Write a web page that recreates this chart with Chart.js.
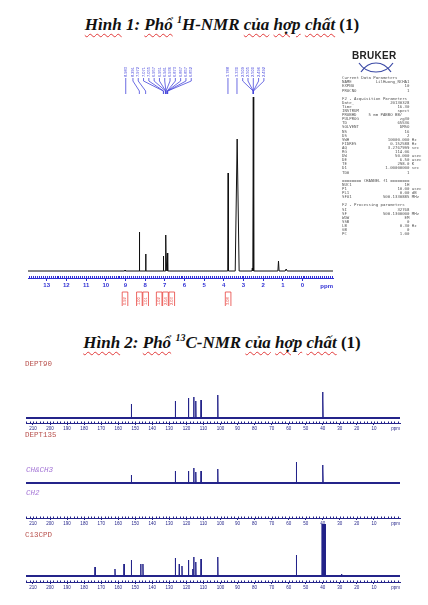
<!DOCTYPE html>
<html lang="vi">
<head>
<meta charset="utf-8">
<title>Phổ NMR của hợp chất (1)</title>
<script src="https://cdn.jsdelivr.net/npm/chart.js@4.4.1/dist/chart.umd.min.js"></script>
<style>
  html, body { margin: 0; padding: 0; background: #fff; }
  #page { position: relative; width: 428px; height: 605px; overflow: hidden; }
  canvas { position: absolute; left: 0; }
  .title {
    position: absolute; left: 0; width: 444px; text-align: center; white-space: nowrap;
    font-family: 'Liberation Serif', 'DejaVu Serif', serif; font-weight: bold; font-style: italic;
    font-size: 17px; line-height: 20px; color: #111;
  }
  .title sup { font-size: 10px; vertical-align: 7px; line-height: 0; }
  .title .up { font-style: normal; }
  .sq { text-decoration: underline wavy #e23a3a; text-decoration-thickness: 1px; text-underline-offset: 3px; }
  .lbl { position: absolute; font-family: 'Liberation Mono', 'DejaVu Sans Mono', monospace; font-size: 7.5px; line-height: 8px; white-space: nowrap; }
  .red { color: #b8504c; }
  .pur { color: #a475d6; font-style: italic; }
  #logo { position: absolute; left: 352px; top: 51px; font-family: 'Liberation Sans', Arial, sans-serif; font-weight: bold; font-size: 10px; line-height: 10px; letter-spacing: 0.3px; color: #222; }
  #swoosh { position: absolute; left: 357px; top: 60px; }
  #params {
    position: absolute; left: 342px; top: 76px; margin: 0;
    font-family: 'DejaVu Sans Mono', 'Liberation Mono', monospace; font-size: 8px; line-height: 8.2px;
    color: #555; transform: scale(0.5); transform-origin: 0 0;
  }
</style>
</head>
<body>
<div id="page">
  <div class="title" style="top:15px"><span class="sq">Hình</span> 1: <span class="sq">Phổ</span> <sup>1</sup>H-NMR <span class="sq">của</span> <span class="sq">hợp</span> <span class="sq">chất</span> <span class="up">(1)</span></div>
  <div class="title" style="top:333px"><span class="sq">Hình</span> 2: <span class="sq">Phổ</span> <sup>13</sup>C-NMR <span class="sq">của</span> <span class="sq">hợp</span> <span class="sq">chất</span> <span class="up">(1)</span></div>

  <canvas id="h1" width="428" height="312" style="top:0"></canvas>
  <canvas id="dept90" width="428" height="85" style="top:350px"></canvas>
  <canvas id="dept135" width="428" height="98" style="top:432px"></canvas>
  <canvas id="cpd" width="428" height="85" style="top:515px"></canvas>

  <div class="lbl red" style="left:25px; top:360px">DEPT90</div>
  <div class="lbl red" style="left:25px; top:431px">DEPT135</div>
  <div class="lbl pur" style="left:26px; top:466px">CH&amp;CH3</div>
  <div class="lbl pur" style="left:26px; top:489px">CH2</div>
  <div class="lbl red" style="left:25px; top:531px">C13CPD</div>

  <div id="logo">BRUKER</div>
  <svg id="swoosh" width="38" height="14" viewBox="0 0 38 14">
    <path d="M2 3 C10 15, 28 15, 36 3" fill="none" stroke="#3b4aa6" stroke-width="1.2"/>
    <path d="M4 12 C12 0, 26 0, 34 12" fill="none" stroke="#3b4aa6" stroke-width="1.2"/>
  </svg>
<pre id="params">Current Data Parameters
NAME          LilHuong_NCHA1
EXPNO                     10
PROCNO                     1

F2 - Acquisition Parameters
Date_               20130328
Time                   16.30
INSTRUM                spect
PROBHD     5 mm PABBO BB/
PULPROG                 zg30
TD                     65536
SOLVENT                 DMSO
NS                        16
DS                         2
SWH                10000.000 Hz
FIDRES              0.152588 Hz
AQ                 3.2767999 sec
RG                    114.06
DW                    50.000 usec
DE                      6.50 usec
TE                     298.0 K
D1                1.00000000 sec
TD0                        1

======== CHANNEL f1 ========
NUC1                      1H
P1                     10.00 usec
PL1                     0.00 dB
SFO1             500.1330885 MHz

F2 - Processing parameters
SI                     32768
SF               500.1300000 MHz
WDW                       EM
SSB                        0
LB                      0.30 Hz
GB                         0
PC                      1.00</pre>
</div>

<script>
// 1H spectrum (ppm, peak height, half width in ppm)
const h1Shift  = [9.02, 8.29, 7.97, 7.07, 6.95, 6.87, 3.78, 3.32, 2.55, 2.50, 1.22, 0.83];
const h1Height = [1, 39, 17, 15, 36, 18, 98, 132, 3, 174, 10, 2];
const h1Width  = [0.02, 0.015, 0.015, 0.015, 0.02, 0.02, 0.02, 0.1, 0.02, 0.02, 0.03, 0.05];
const h1Range  = [-1.55, 13.95];

// peak pick labels printed above the 1H spectrum
const h1Labels = [8.983, 8.291, 7.972, 7.071, 7.055, 6.957, 6.951, 6.941, 6.936, 6.873, 6.867, 6.857, 6.852,
                  3.788, 3.330, 2.509, 2.505, 2.500, 2.496, 2.492];

// integrals under the 1H axis
const h1IntShift = [9.02, 8.29, 7.97, 7.07, 6.95, 6.87, 3.78];
const h1IntValue = ['0.92', '1.00', '1.01', '1.02', '2.04', '2.03', '3.08'];

// 13C spectra
const c13Range = [-5.3, 214.1];
const dept90Shift  = [152.3, 126.5, 118.8, 115.7, 114.5, 111.4, 101.6, 40.1, 39.9];
const dept90Height = [14, 17, 20, 21, 17, 18, 23, 26, 19];
const dept135Shift  = [152.3, 126.5, 118.8, 115.7, 114.5, 111.4, 101.6, 55.5, 40.1, 39.9];
const dept135Height = [8, 12, 12, 15, 11, 12, 14, 21, 18, 14];
const cpdShift  = [173.6, 161.9, 156.6, 152.3, 146.8, 145.5, 126.5, 124.2, 122.6, 118.8, 116.3, 115.7, 114.5,
                   111.4, 101.6, 55.5, 40.4, 40.1, 39.8, 39.5, 39.2, 38.9, 38.6, 29.0];
const cpdHeight = [9, 7, 12, 16, 12, 12, 18, 12, 10, 16, 7, 19, 14, 17, 19, 21, 70, 80, 80, 80, 80, 80, 70, 2];

const c13Ticks = [210, 200, 190, 180, 170, 160, 150, 140, 130, 120, 110, 100, 90, 80, 70, 60, 50, 40, 30, 20, 10];

const BLUE = '#2f2fd4';
const NAVY = '#24248a';

// turn peak lists into a stick spectrum line
function peakLine(shifts, heights, width, range) {
  const pts = [{ x: range[1], y: 0 }];
  shifts.forEach((s, i) => {
    const w = Array.isArray(width) ? width[i] : width;
    pts.push({ x: s + w, y: 0 }, { x: s, y: heights[i] }, { x: s - w, y: 0 });
  });
  pts.push({ x: range[0], y: 0 });
  return pts.sort((a, b) => b.x - a.x);
}

// spread labels so they don't overlap, centred over their peaks
function spread(pixels, gap) {
  let groups = pixels.map((p, i) => ({ items: [i], center: p }));
  let merged = true;
  while (merged) {
    merged = false;
    for (let i = 0; i < groups.length - 1; i++) {
      const a = groups[i], b = groups[i + 1];
      const aRight = a.center + (a.items.length - 1) * gap / 2;
      const bLeft = b.center - (b.items.length - 1) * gap / 2;
      if (bLeft - aRight < gap) {
        const items = a.items.concat(b.items);
        const center = items.reduce((s, k) => s + pixels[k], 0) / items.length;
        groups.splice(i, 2, { items: items, center: center });
        merged = true;
        break;
      }
    }
  }
  const out = [];
  groups.forEach(g => g.items.forEach((k, j) => { out[k] = g.center + (j - (g.items.length - 1) / 2) * gap; }));
  return out;
}

function minorTicks(step, len, color) {
  return {
    id: 'minorTicks',
    afterDraw(chart) {
      const s = chart.scales.x, ctx = chart.ctx, y = chart.chartArea.bottom;
      ctx.save();
      ctx.strokeStyle = color;
      ctx.lineWidth = 1;
      ctx.beginPath();
      for (let i = Math.ceil(s.min / step); i * step <= s.max; i++) {
        const px = Math.round(s.getPixelForValue(i * step)) + 0.5;
        ctx.moveTo(px, y);
        ctx.lineTo(px, y - len);
      }
      ctx.stroke();
      ctx.restore();
    }
  };
}

function ppmLabel(offset, font, color) {
  return {
    id: 'ppmLabel',
    afterDraw(chart) {
      const ctx = chart.ctx;
      ctx.save();
      ctx.font = font;
      ctx.fillStyle = color;
      ctx.textAlign = 'right';
      ctx.textBaseline = 'middle';
      ctx.fillText('ppm', chart.chartArea.right, chart.chartArea.bottom + offset);
      ctx.restore();
    }
  };
}

const peakLabels = {
  id: 'peakLabels',
  afterDraw(chart) {
    const s = chart.scales.x, ctx = chart.ctx;
    const px = h1Labels.map(v => s.getPixelForValue(v));
    const lx = spread(px, 5.3);
    ctx.save();
    ctx.strokeStyle = '#4646dc';
    ctx.fillStyle = '#4646dc';
    ctx.lineWidth = 0.8;
    ctx.font = '4px "Liberation Sans"';
    lx.forEach((x, i) => {
      ctx.save();
      ctx.translate(x, 77);
      ctx.rotate(-Math.PI / 2);
      ctx.textBaseline = 'middle';
      ctx.textAlign = 'left';
      ctx.fillText(h1Labels[i].toFixed(3), 0, 0);
      ctx.restore();
      ctx.beginPath();
      ctx.moveTo(x, 78);
      ctx.lineTo(x, 81);
      ctx.lineTo(px[i], 91);
      ctx.lineTo(px[i], 94);
      ctx.stroke();
    });
    ctx.restore();
  }
};

const integrals = {
  id: 'integrals',
  afterDraw(chart) {
    const s = chart.scales.x, ctx = chart.ctx;
    const cx = spread(h1IntShift.map(v => s.getPixelForValue(v)), 6.3);
    ctx.save();
    ctx.strokeStyle = '#e8433d';
    ctx.fillStyle = '#e8433d';
    ctx.lineWidth = 0.8;
    ctx.font = '4px "Liberation Sans"';
    cx.forEach((x, i) => {
      ctx.beginPath();
      ctx.moveTo(x - 2.8, 306);
      ctx.lineTo(x - 2.8, 292);
      ctx.lineTo(x + 2.8, 292);
      ctx.lineTo(x + 2.8, 306);
      ctx.stroke();
      ctx.save();
      ctx.translate(x, 305);
      ctx.rotate(-Math.PI / 2);
      ctx.textBaseline = 'middle';
      ctx.textAlign = 'left';
      ctx.fillText(h1IntValue[i], 0, 0);
      ctx.restore();
    });
    ctx.restore();
  }
};

const hidden = 'rgba(0,0,0,0)';

// 1H chart
new Chart(document.getElementById('h1'), {
  type: 'line',
  data: {
    datasets: [{
      data: peakLine(h1Shift, h1Height, h1Width, h1Range),
      borderColor: '#111', borderWidth: 1, pointRadius: 0, tension: 0
    }]
  },
  options: {
    responsive: false, animation: false, devicePixelRatio: 1,
    layout: { padding: { left: 28, right: 95, top: 90, bottom: 0 } },
    plugins: { legend: { display: false }, tooltip: { enabled: false } },
    scales: {
      x: {
        type: 'linear', reverse: true, min: h1Range[0], max: h1Range[1],
        afterFit: s => { s.height = 34; },
        border: { color: BLUE, width: 1 },
        grid: { drawOnChartArea: false, tickLength: 3, color: c => (c.tick && c.tick.value < 0) ? hidden : BLUE },
        ticks: {
          stepSize: 1, includeBounds: false, autoSkip: false, maxRotation: 0, padding: 1,
          color: BLUE, font: { family: 'Liberation Sans', size: 6, weight: 'bold' },
          callback: v => v < 0 ? '' : String(v)
        }
      },
      y: { display: false, min: -7, max: 181 }
    }
  },
  plugins: [minorTicks(0.1, 2, BLUE), peakLabels, integrals, ppmLabel(8, 'bold 6px "Liberation Sans"', BLUE)]
});

function c13Chart(id, shifts, heights, pad, axisH, yMin, yMax) {
  return new Chart(document.getElementById(id), {
    type: 'line',
    data: {
      datasets: [
        { data: peakLine(shifts, heights, 0.15, c13Range), borderColor: NAVY, borderWidth: 1, pointRadius: 0, tension: 0 },
        { data: [{ x: c13Range[1], y: 0 }, { x: c13Range[0], y: 0 }], borderColor: NAVY, borderWidth: 2, pointRadius: 0 }
      ]
    },
    options: {
      responsive: false, animation: false, devicePixelRatio: 1,
      layout: { padding: { left: 26, right: 28, top: pad.top, bottom: pad.bottom } },
      plugins: { legend: { display: false }, tooltip: { enabled: false } },
      scales: {
        x: {
          type: 'linear', reverse: true, min: c13Range[0], max: c13Range[1],
          afterFit: s => { s.height = axisH; },
          border: { color: NAVY, width: 1 },
          grid: { drawOnChartArea: false, tickLength: 2, color: c => (c.tick && c13Ticks.includes(c.tick.value)) ? NAVY : hidden },
          ticks: {
            stepSize: 10, includeBounds: false, autoSkip: false, maxRotation: 0, padding: 1,
            color: NAVY, font: { family: 'Liberation Sans', size: 4.5 },
            callback: v => c13Ticks.includes(v) ? String(v) : ''
          }
        },
        y: { display: false, min: yMin, max: yMax }
      }
    },
    plugins: [minorTicks(2, 1.5, NAVY), ppmLabel(6, '4.5px "Liberation Sans"', NAVY)]
  });
}

c13Chart('dept90', dept90Shift, dept90Height, { top: 20, bottom: 0 }, 12, -5, 48);
c13Chart('dept135', dept135Shift, dept135Height, { top: 8, bottom: 0 }, 12, -35, 43);
c13Chart('cpd', cpdShift, cpdHeight, { top: 9, bottom: 0 }, 18, -6, 52);
</script>
</body>
</html>
